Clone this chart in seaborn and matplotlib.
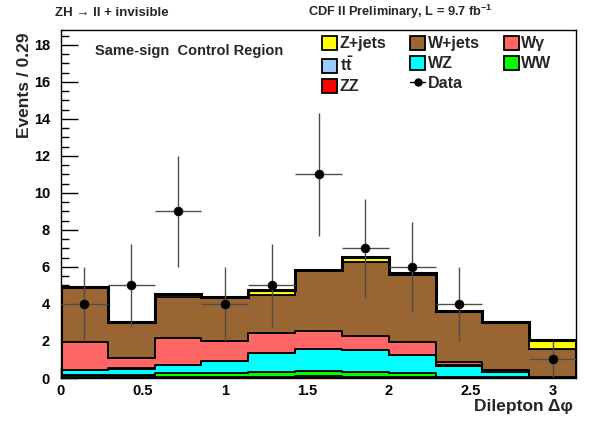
import numpy as np
import pandas as pd
import matplotlib
matplotlib.use("Agg")
import matplotlib.pyplot as plt
import seaborn as sns
from matplotlib.patches import Patch
from matplotlib.lines import Line2D

# ---------------- data ----------------
n_bins = 11
x_lo, x_hi = 0.0, np.pi
# stack order bottom -> top
proc_order = ["ZZ", "WW", "WZ", "ttbar", "Wgamma", "Wjets", "Zjets"]
zz     = [0.03, 0.03, 0.04, 0.05, 0.06, 0.10, 0.08, 0.06, 0.02, 0.01, 0.00]
ww     = [0.13, 0.13, 0.21, 0.22, 0.28, 0.30, 0.26, 0.19, 0.03, 0.03, 0.01]
wz     = [0.27, 0.35, 0.45, 0.65, 0.99, 1.17, 1.17, 0.97, 0.62, 0.29, 0.02]
ttbar  = [0.02, 0.01, 0.02, 0.02, 0.02, 0.02, 0.02, 0.02, 0.01, 0.01, 0.00]
wgamma = [1.51, 0.54, 1.46, 1.06, 1.06, 0.96, 0.76, 0.69, 0.18, 0.10, 0.02]
wjets  = [2.94, 1.96, 2.22, 2.36, 2.08, 3.27, 3.96, 3.64, 2.73, 2.58, 1.52]
zjets  = [0.03, 0.03, 0.14, 0.04, 0.27, 0.04, 0.27, 0.12, 0.03, 0.03, 0.48]
data_counts = [4, 5, 9, 4, 5, 11, 7, 6, 4, 0, 1]

colors = {"ZZ": "#FF0000", "WW": "#00FF00", "WZ": "#00FFFF", "ttbar": "#99CCFF",
          "Wgamma": "#FF6666", "Wjets": "#996633", "Zjets": "#FFFF00"}
labels = {"ZZ": "ZZ", "WW": "WW", "WZ": "WZ", "ttbar": r"t$\bar{\mathrm{t}}$",
          "Wgamma": "Wγ", "Wjets": "W+jets", "Zjets": "Z+jets"}

edges = np.linspace(x_lo, x_hi, n_bins + 1)
centers = 0.5 * (edges[:-1] + edges[1:])
halfw = 0.5 * (edges[1] - edges[0])

series = {"ZZ": zz, "WW": ww, "WZ": wz, "ttbar": ttbar, "Wgamma": wgamma,
          "Wjets": wjets, "Zjets": zjets}
df = pd.concat([pd.DataFrame({"dphi": centers, "events": series[p], "process": p})
                for p in proc_order], ignore_index=True)

# ---------------- style ----------------
sns.set_theme(style="ticks")
plt.rcParams['font.family'] = ['Liberation Sans', 'DejaVu Sans']
plt.rcParams['font.weight'] = 'bold'
plt.rcParams['mathtext.fontset'] = 'custom'
plt.rcParams['mathtext.rm'] = 'Liberation Sans:bold'
plt.rcParams['mathtext.bf'] = 'Liberation Sans:bold'
plt.rcParams['mathtext.it'] = 'Liberation Sans:bold'
plt.rcParams['mathtext.default'] = 'rm'

W, H = 590, 426
fig = plt.figure(figsize=(W / 100, H / 100), dpi=100)
fig.patch.set_facecolor("white")
ax = fig.add_axes([61 / W, 48 / H, 515 / W, 348 / H])
ax.set_facecolor("white")

# seaborn puts the first hue level on top of the stack -> pass top-to-bottom order
sns.histplot(data=df, x="dphi", weights="events", hue="process",
             hue_order=proc_order[::-1],
             bins=list(edges), multiple="stack", element="step", fill=True,
             palette=colors, alpha=1, edgecolor="black", linewidth=1.3,
             legend=False, ax=ax)

total = np.sum([np.array(series[p]) for p in proc_order], axis=0)
ax.stairs(total, edges, color="black", linewidth=2.2, zorder=4)

d = np.array(data_counts, dtype=float)
m = d > 0
ax.errorbar(centers[m], d[m], yerr=np.sqrt(d[m]), xerr=halfw, fmt="none",
            ecolor="0.3", elinewidth=1.0, zorder=5)
sns.scatterplot(x=centers[m], y=d[m], color="black", s=40, edgecolor="black",
                zorder=6, ax=ax, legend=False)

ax.set_xlim(x_lo, x_hi)
ax.set_ylim(0, 18.8)
ax.set_xticks(np.arange(0, 3.01, 0.5))
ax.set_xticklabels(["0", "0.5", "1", "1.5", "2", "2.5", "3"])
ax.set_xticks(np.arange(0, 3.15, 0.1), minor=True)
ax.set_yticks(np.arange(0, 18.1, 2))
ax.set_yticks(np.arange(0, 18.8, 0.5), minor=True)
ax.tick_params(axis="both", which="both", direction="in", top=False, right=False,
               colors="black", labelsize=10.5, width=1)
ax.tick_params(axis="x", which="major", length=8, pad=4)
ax.tick_params(axis="x", which="minor", length=4)
ax.tick_params(axis="y", which="major", length=12, pad=8)
ax.tick_params(axis="y", which="minor", length=6)
for lab in ax.get_xticklabels() + ax.get_yticklabels():
    lab.set_fontweight("bold")
for s in ax.spines.values():
    s.set_color("black")
    s.set_linewidth(1.0)
    s.set_visible(True)

ax.set_xlabel("Dilepton Δφ", fontsize=12.5, fontweight="bold", loc="right", labelpad=1)
ax.xaxis.set_label_coords((573 - 61) / 515, -(399 - 378) / 348)
ax.set_ylabel("Events / 0.29", fontsize=12.5, fontweight="bold", loc="top", labelpad=0)
ax.yaxis.set_label_coords(-(61 - 32) / 515, (378 - 33) / 348)

fig.text(55 / W, 1 - 16 / H, "ZH → ll + invisible", fontsize=9.5, fontweight="bold",
         ha="left", va="baseline")
fig.text(493 / W, 1 - 16 / H, r"CDF II Preliminary, L = 9.7 fb$^{-1}$", fontsize=9.2,
         fontweight="bold", ha="right", va="baseline")
fig.text(95 / W, 1 - 51 / H, "Same-sign  Control Region", fontsize=10.5,
         fontweight="bold", ha="left", va="center")

def ph(p):
    return Patch(facecolor=colors[p], edgecolor="black", linewidth=1.3)

data_h = Line2D([0], [0], color="black", marker="o", markersize=5, linewidth=1)
handles = [ph("Zjets"), ph("ttbar"), ph("ZZ"),
           ph("Wjets"), ph("WZ"), data_h,
           ph("Wgamma"), ph("WW")]
labs = [labels["Zjets"], labels["ttbar"], labels["ZZ"],
        labels["Wjets"], labels["WZ"], "Data",
        labels["Wgamma"], labels["WW"]]
leg = ax.legend(handles, labs, ncol=3, loc="upper left",
                bbox_to_anchor=((322 - 61) / 515, 1 - (36 - 30) / 348),
                frameon=False, fontsize=11.5, handlelength=0.95, handleheight=0.95,
                handletextpad=0.15, columnspacing=1.5, labelspacing=0.28,
                borderpad=0.0, borderaxespad=0.0)
for t in leg.get_texts():
    t.set_fontweight("bold")

fig.savefig("out.png", dpi=100, facecolor="white")
